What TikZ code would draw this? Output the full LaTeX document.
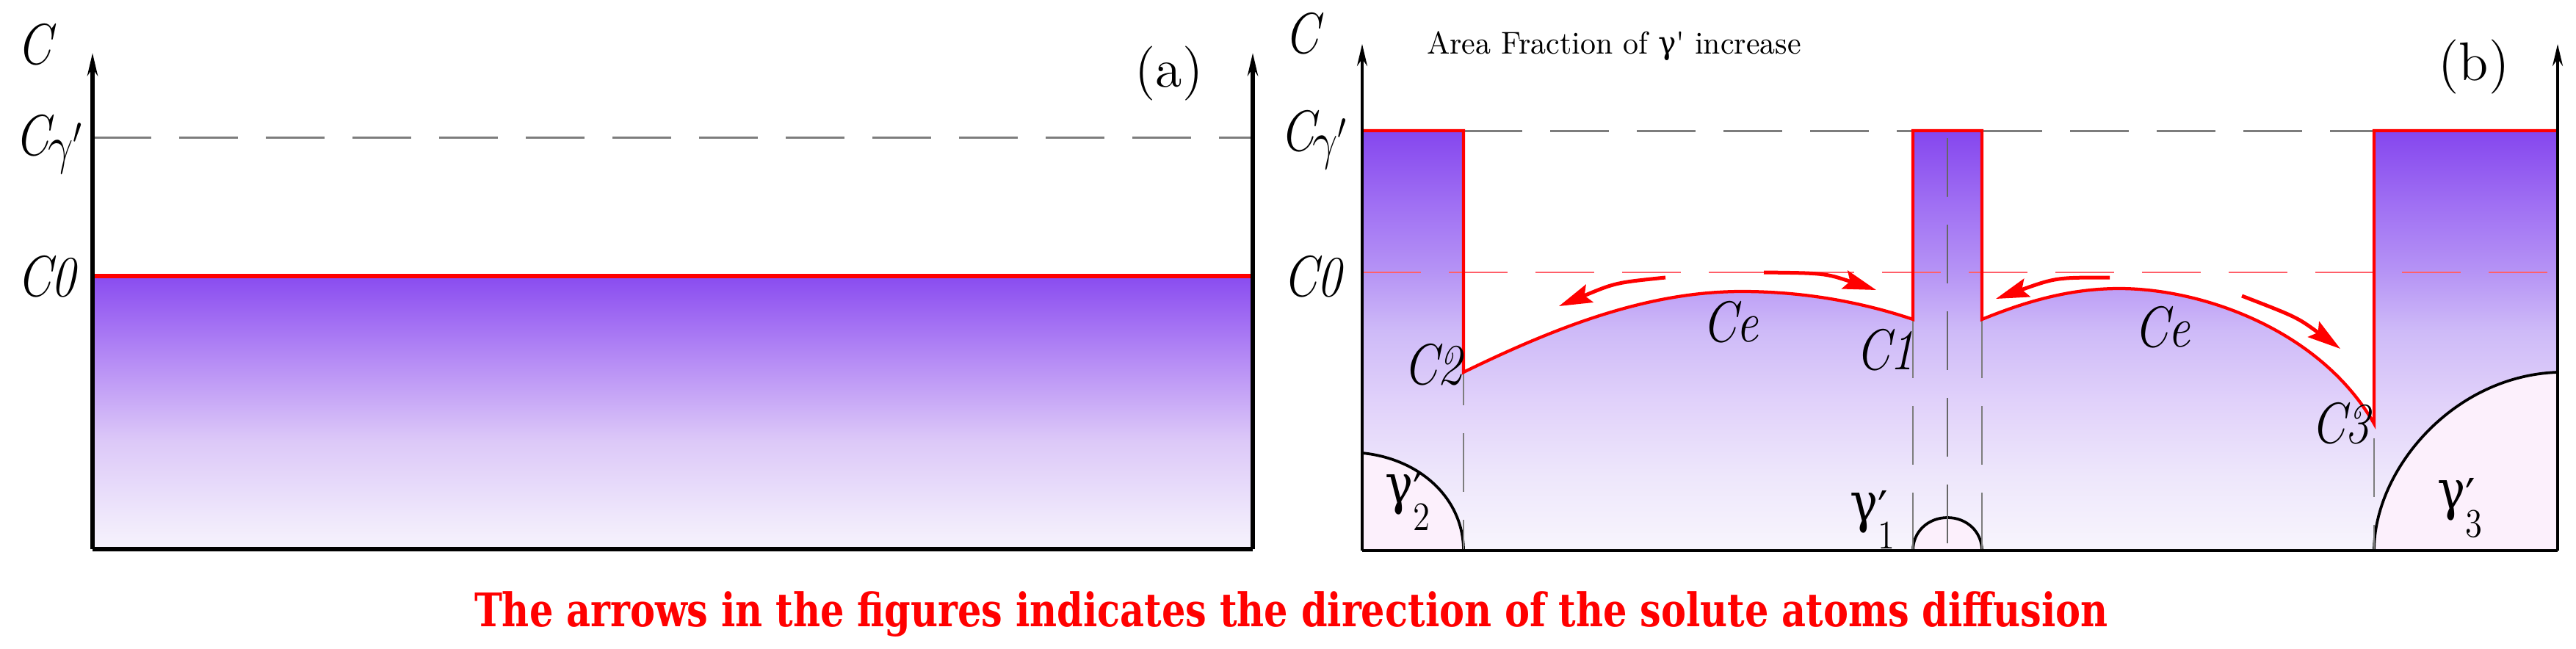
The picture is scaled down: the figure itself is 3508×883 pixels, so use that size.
\documentclass[tikz,border=0pt]{standalone}
\usepackage{fontspec}
\newfontfamily\gfont{DejaVu Serif}
\usepackage{graphicx}
\usetikzlibrary{arrows.meta}
\definecolor{pred}{RGB}{255,0,0}
\definecolor{c0red}{RGB}{255,95,105}
\definecolor{dgray}{RGB}{125,125,125}
\definecolor{pinkf}{RGB}{252,240,252}
\definecolor{ab0}{RGB}{246,243,252}
\definecolor{ab1}{RGB}{238,230,251}
\definecolor{ab2}{RGB}{220,200,248}
\definecolor{ab3}{RGB}{185,145,245}
\definecolor{ab4}{RGB}{155,100,242}
\definecolor{ab5}{RGB}{137,76,240}
\definecolor{bb0}{RGB}{248,245,253}
\definecolor{bb1}{RGB}{238,231,251}
\definecolor{bb2}{RGB}{225,210,250}
\definecolor{bb3}{RGB}{206,186,248}
\definecolor{bb4}{RGB}{182,148,245}
\definecolor{bb5}{RGB}{160,112,243}
\definecolor{bb6}{RGB}{133,70,238}
\pgfdeclareverticalshading{ashade}{100bp}{color(0bp)=(ab0); color(25bp)=(ab0); color(31.5bp)=(ab1); color(44.9bp)=(ab2); color(58.3bp)=(ab3); color(69.1bp)=(ab4); color(75bp)=(ab5); color(100bp)=(ab5)}
\pgfdeclareverticalshading{bshade}{100bp}{color(0bp)=(bb0); color(25bp)=(bb0); color(33.7bp)=(bb1); color(42.5bp)=(bb2); color(51.2bp)=(bb3); color(58.1bp)=(bb4); color(66.1bp)=(bb5); color(75bp)=(bb6); color(100bp)=(bb6)}
\newcommand\nlab[1]{\scalebox{0.85}[1]{#1}}
\newcommand\cgp{C\kern-0.04em\raisebox{-0.14em}{\fontsize{14.5}{16}\selectfont$\gamma'$}}
\newcommand\gp[1]{{\gfont γ}\rlap{\raisebox{-0.12em}{\gfont\fontsize{14}{15}\selectfont ′}}\raisebox{-0.5em}{\fontsize{11}{12}\selectfont #1}}
\tikzset{
  axa/.style={line width=1.2pt,-{Stealth[length=6.2pt,width=2.8pt]}},
  axb/.style={line width=0.75pt,-{Stealth[length=6pt,width=2.8pt]}},
  gdash/.style={draw=dgray,line width=0.6pt,dash pattern=on 16pt off 7.6pt},
  vdash/.style={draw=dgray,line width=0.4pt,dash pattern=on 16pt off 7.6pt},
  cdash/.style={draw=c0red,line width=0.55pt,dash pattern=on 16pt off 7.6pt},
  redline/.style={draw=pred,line width=0.85pt,line join=miter},
  redarr/.style={draw=pred,line width=1pt,-{Stealth[length=9pt,width=5.2pt,inset=1.5pt]}},
  gline/.style={draw=black,line width=0.75pt},
  lbl/.style={font=\fontsize{15.7}{17}\selectfont\itshape,inner sep=0pt,anchor=base west},
  glbl/.style={font=\fontsize{15}{17}\selectfont,inner sep=0pt,anchor=center},
  plbl/.style={font=\fontsize{14.8}{17}\selectfont,inner sep=0pt,anchor=center}
}
\begin{document}
\begin{tikzpicture}[x=0.2pt,y=-0.2pt]
\useasboundingbox (0,0) rectangle (3508,883);
% ---------- panel (a) ----------
\draw[gdash] (126,187) -- (1706,187);
\fill[shading=ashade] (126,376) rectangle (1706,748);
\draw[draw=pred,line width=1.3pt] (126,376) -- (1706,376);
\draw[line width=1.2pt] (126,748) -- (1706,748);
\draw[axa] (126,748) -- (126,72);
\draw[axa] (1706,748) -- (1706,72);
\node[lbl] (aC) at (23,87) {\nlab{C}};
\node[lbl] (aCg) at (20,211) {\nlab{\cgp}};
\node[lbl] (aC0) at (22,403) {\nlab{C0}};
\node[plbl] (alab) at (1592,100) {(a)};
% ---------- panel (b) ----------
\draw[gdash] (1993,178) -- (3233,178);
\fill[shading=bshade] (1855,178) -- (1993,178) -- (1993,507)
  .. controls (2130,440) and (2250,397) .. (2372,397)
  .. controls (2460,397) and (2540,413) .. (2605,435)
  -- (2605,178) -- (2699,178) -- (2699,435)
  .. controls (2760,410) and (2820,393) .. (2886,393)
  .. controls (3000,393) and (3160,450) .. (3233,577)
  -- (3233,178) -- (3483,178) -- (3483,750) -- (1855,750) -- cycle;
% gamma' particles
\fill[pinkf] (1855,750) -- (1855,617) .. controls (1935,625) and (1993,680) .. (1993,750) -- cycle;
\draw[gline] (1855,617) .. controls (1935,625) and (1993,680) .. (1993,750);
\fill[pinkf] (3483,750) -- (3233,750) .. controls (3233,640) and (3340,512) .. (3483,507) -- cycle;
\draw[gline] (3233,750) .. controls (3233,640) and (3340,512) .. (3483,507);
\fill[pinkf] (2605,750) .. controls (2605,724) and (2626,705) .. (2652,705) .. controls (2678,705) and (2699,724) .. (2699,750) -- cycle;
\draw[gline] (2605,750) .. controls (2605,724) and (2626,705) .. (2652,705) .. controls (2678,705) and (2699,724) .. (2699,750);
% vertical dashed guides
\draw[vdash,dash phase=7pt] (1993,507) -- (1993,750);
\draw[vdash] (2605,435) -- (2605,750);
\draw[vdash] (2699,435) -- (2699,750);
\draw[vdash,draw=black!60,line width=0.5pt,dash phase=-2pt] (2652,178) -- (2652,750);
\draw[vdash,dash phase=-4pt] (3233,577) -- (3233,750);
% C0 dashed
\draw[cdash] (1855,371) -- (3483,371);
% red outline
\draw[redline] (1855,178) -- (1993,178) -- (1993,507)
  .. controls (2130,440) and (2250,397) .. (2372,397)
  .. controls (2460,397) and (2540,413) .. (2605,435)
  -- (2605,178) -- (2699,178) -- (2699,435)
  .. controls (2760,410) and (2820,393) .. (2886,393)
  .. controls (3000,393) and (3160,450) .. (3233,577)
  -- (3233,178) -- (3483,178);
% axes
\draw[line width=0.8pt] (1855,750) -- (3483,750);
\draw[axb] (1855,750) -- (1855,60);
\draw[axb] (3483,750) -- (3483,60);
% diffusion arrows
\coordinate (t1) at (2268,378); \coordinate (h1) at (2123,417);
\coordinate (t2) at (2402,371); \coordinate (h2) at (2555,395);
\coordinate (t3) at (2873,378); \coordinate (h3) at (2718,407);
\coordinate (t4) at (3053,403); \coordinate (h4) at (3187,475);
\draw[redarr] (t1) .. controls (2200,385) .. (h1);
\draw[redarr] (t2) .. controls (2485,372) .. (h2);
\draw[redarr] (t3) .. controls (2800,378) .. (h3);
\draw[redarr] (t4) .. controls (3128,432) .. (h4);
% labels
\node[lbl] (bC) at (1748,72) {\nlab{C}};
\node[lbl] (bCg) at (1742,205) {\nlab{\cgp}};
\node[lbl] (bC0) at (1746,403) {\nlab{C0}};
\node[lbl] (bC2) at (1910,523) {\nlab{C2}};
\node[lbl] (bCe1) at (2317,465) {\nlab{Ce}};
\node[lbl] (bC1) at (2526,503) {\nlab{C1}};
\node[lbl] (bCe2) at (2905,472) {\nlab{Ce}};
\node[lbl] (bC3) at (3146,603) {\nlab{C3}};
\node[glbl] (g1) at (2550,708) {\nlab{\gp{1}}};
\node[glbl] (g2) at (1917,683) {\nlab{\gp{2}}};
\node[glbl] (g3) at (3350,692) {\nlab{\gp{3}}};
\node[plbl] (blab) at (3369,91) {(b)};
\node[inner sep=0pt,anchor=base west] (area) at (1942,73)
  {\resizebox{102pt}{\height}{\fontsize{8.6}{10}\selectfont Area Fraction of {\gfont γ}\textquotesingle{} increase}};
\node[inner sep=0pt,anchor=base west,text=pred] (note) at (645,853)
  {\resizebox{445pt}{\height}{\gfont\bfseries\fontsize{12.6}{15}\selectfont The arrows in the figures indicates the direction of the solute atoms diffusion}};
\end{tikzpicture}
\end{document}
